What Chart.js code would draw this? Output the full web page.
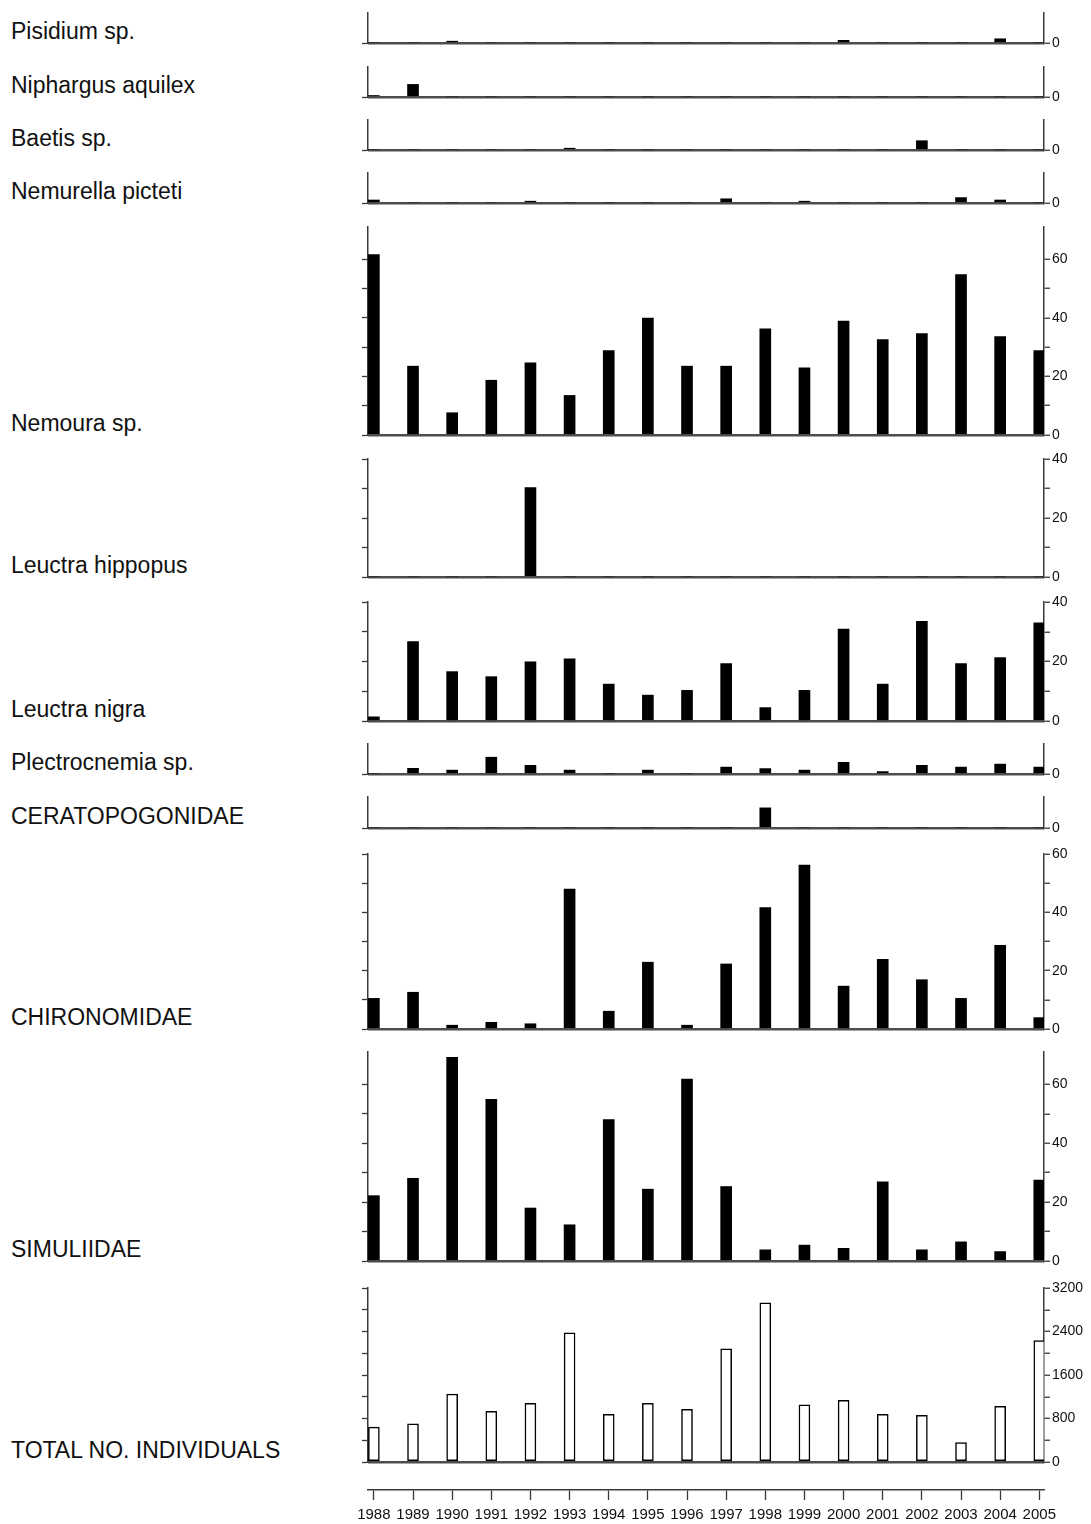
<!DOCTYPE html>
<html>
<head>
<meta charset="utf-8">
<script src="https://cdn.jsdelivr.net/npm/chart.js@4.4.1/dist/chart.umd.min.js"></script>
<style>
  body { margin: 0; background: #fff; width: 1091px; height: 1524px; position: relative; overflow: hidden; }
  canvas { position: absolute; left: 340px; }
  .label { position: absolute; left: 11px; font: 23px 'Liberation Sans', Arial, sans-serif; color: #111; line-height: 26px; white-space: nowrap; }
</style>
</head>
<body>
<script>
// Years on the shared x axis
const years = [1988, 1989, 1990, 1991, 1992, 1993, 1994, 1995, 1996, 1997, 1998, 1999, 2000, 2001, 2002, 2003, 2004, 2005];

// Values per taxon, one per year
const pisidium        = [0, 0, 0.6, 0, 0, 0, 0, 0, 0, 0, 0, 0, 0.9, 0, 0, 0, 1.4, 0];
const niphargus       = [0.5, 4.2, 0, 0, 0, 0, 0, 0, 0, 0, 0, 0, 0, 0, 0, 0, 0, 0];
const baetis          = [0, 0, 0, 0, 0, 0.6, 0, 0, 0, 0, 0, 0, 0, 0, 3.1, 0, 0, 0];
const nemurella       = [1.0, 0, 0, 0, 0.6, 0, 0, 0, 0, 1.4, 0, 0.6, 0, 0, 0, 1.8, 1.0, 0];
const nemoura         = [61.6, 23.5, 7.6, 18.7, 24.6, 13.5, 28.8, 39.9, 23.5, 23.5, 36.2, 22.9, 38.9, 32.6, 34.6, 54.8, 33.6, 28.8];
const leuctraHippopus = [0, 0, 0, 0, 30.3, 0, 0, 0, 0, 0, 0, 0, 0, 0, 0, 0, 0, 0];
const leuctraNigra    = [1.4, 26.7, 16.6, 14.9, 19.9, 20.9, 12.4, 8.7, 10.3, 19.3, 4.5, 10.3, 30.9, 12.4, 33.5, 19.3, 21.3, 33.0];
const plectrocnemia   = [0, 1.9, 1.3, 5.6, 2.9, 1.3, 0, 1.3, 0, 2.3, 1.8, 1.3, 3.9, 0.8, 2.9, 2.3, 3.3, 2.3];
const ceratopogonidae = [0, 0, 0, 0, 0, 0, 0, 0, 0, 0, 6.5, 0, 0, 0, 0, 0, 0, 0];
const chironomidae    = [10.5, 12.6, 1.3, 2.3, 1.8, 48.0, 6.1, 22.9, 1.3, 22.3, 41.6, 56.2, 14.7, 23.9, 16.9, 10.5, 28.7, 3.9];
const simuliidae      = [22.2, 28.1, 69.2, 54.9, 18.0, 12.3, 48.0, 24.4, 61.8, 25.3, 3.8, 5.4, 4.3, 26.9, 3.8, 6.5, 3.2, 27.5];
const totalIndividuals = [642, 704, 1248, 930, 1077, 2375, 875, 1077, 967, 2081, 2925, 1053, 1132, 875, 857, 355, 1022, 2234];

// Tick positions and the ones that carry a label
const zeroTicks  = [0];
const ticksTo60  = [0, 10, 20, 30, 40, 50, 60];
const ticksTo40  = [0, 10, 20, 30, 40];
const totalTicks = [0, 400, 800, 1200, 1600, 2000, 2400, 2800, 3200];
const labels60   = [0, 20, 40, 60];
const labels40   = [0, 20, 40];
const totalLabels = [0, 800, 1600, 2400, 3200];

// Panel layout (page y of plot top and zero line)
const panels = [
  { name: 'Pisidium sp.',         values: pisidium,        max: 10,   ticks: zeroTicks,  labels: zeroTicks,   top: 13,   bottom: 43 },
  { name: 'Niphargus aquilex',    values: niphargus,       max: 10,   ticks: zeroTicks,  labels: zeroTicks,   top: 67,   bottom: 97 },
  { name: 'Baetis sp.',           values: baetis,          max: 10,   ticks: zeroTicks,  labels: zeroTicks,   top: 120,  bottom: 150 },
  { name: 'Nemurella picteti',    values: nemurella,       max: 10,   ticks: zeroTicks,  labels: zeroTicks,   top: 173,  bottom: 203 },
  { name: 'Nemoura sp.',          values: nemoura,         max: 71,   ticks: ticksTo60,  labels: labels60,    top: 227,  bottom: 435 },
  { name: 'Leuctra hippopus',     values: leuctraHippopus, max: 40,   ticks: ticksTo40,  labels: labels40,    top: 459,  bottom: 577 },
  { name: 'Leuctra nigra',        values: leuctraNigra,    max: 40,   ticks: ticksTo40,  labels: labels40,    top: 602,  bottom: 721 },
  { name: 'Plectrocnemia sp.',    values: plectrocnemia,   max: 10,   ticks: zeroTicks,  labels: zeroTicks,   top: 744,  bottom: 774 },
  { name: 'CERATOPOGONIDAE',      values: ceratopogonidae, max: 10,   ticks: zeroTicks,  labels: zeroTicks,   top: 797,  bottom: 828 },
  { name: 'CHIRONOMIDAE',         values: chironomidae,    max: 60,   ticks: ticksTo60,  labels: labels60,    top: 854,  bottom: 1029 },
  { name: 'SIMULIIDAE',           values: simuliidae,      max: 71,   ticks: ticksTo60,  labels: labels60,    top: 1052, bottom: 1261 },
  { name: 'TOTAL NO. INDIVIDUALS', values: totalIndividuals, max: 3200, ticks: totalTicks, labels: totalLabels, top: 1288, bottom: 1462, open: true }
];

const X_MIN = 1987.85;
const X_MAX = 2005.12;
const AXIS = '#3a3a3a';
const BASE = '#4d4d4d';
const FAMILY = "'Liberation Sans', Arial, sans-serif";
const TICK_FONT = { family: FAMILY, size: 14 };
const YEAR_FONT = { family: FAMILY, size: 15 };
const PAD = 12;

function addCanvas(top, height) {
  const canvas = document.createElement('canvas');
  canvas.width = 751;
  canvas.height = height;
  canvas.style.top = top + 'px';
  document.body.appendChild(canvas);
  return canvas;
}

function addLabel(text, centerY) {
  const div = document.createElement('div');
  div.className = 'label';
  div.textContent = text;
  div.style.top = (centerY - 13) + 'px';
  document.body.appendChild(div);
}

// Draw one taxon panel
function makePanel(p) {
  const canvas = addCanvas(p.top - PAD, p.bottom - p.top + 2 * PAD);
  addLabel(p.name, p.bottom - 12);
  new Chart(canvas, {
    type: 'bar',
    data: {
      datasets: [{
        data: years.map((y, i) => ({ x: y, y: p.values[i] })),
        yAxisID: 'y',
        backgroundColor: p.open ? '#fff' : '#000',
        borderColor: '#000',
        borderWidth: p.open ? 1.5 : 0,
        borderSkipped: false,
        barThickness: 11
      }]
    },
    options: {
      responsive: false,
      animation: false,
      layout: { padding: { top: PAD, bottom: PAD, left: 0, right: 0 } },
      plugins: { legend: { display: false }, tooltip: { enabled: false } },
      scales: {
        x: { type: 'linear', min: X_MIN, max: X_MAX, offset: false, display: false },
        yL: {
          axis: 'y', position: 'left', min: 0, max: p.max,
          afterBuildTicks: s => { s.ticks = p.ticks.map(v => ({ value: v })); },
          afterFit: s => { s.width = 28; },
          ticks: { display: false },
          grid: { drawOnChartArea: false, tickLength: 6, tickColor: AXIS, tickWidth: 1.3 },
          border: { color: AXIS, width: 1.5 }
        },
        y: {
          position: 'right', min: 0, max: p.max,
          afterBuildTicks: s => { s.ticks = p.ticks.map(v => ({ value: v })); },
          afterFit: s => { s.width = 47; },
          ticks: {
            callback: v => p.labels.includes(v) ? String(v) : '',
            font: TICK_FONT, color: '#111', padding: 2
          },
          grid: {
            color: ctx => ctx.tick && ctx.tick.value === 0 ? BASE : 'rgba(0,0,0,0)',
            lineWidth: 2.5, tickLength: 6, tickColor: AXIS, tickWidth: 1.3
          },
          border: { color: AXIS, width: 1.5 }
        }
      }
    }
  });
}

// Shared year axis at the bottom
function makeYearAxis() {
  const canvas = addCanvas(1460, 64);
  new Chart(canvas, {
    type: 'scatter',
    data: { datasets: [] },
    options: {
      responsive: false,
      animation: false,
      layout: { padding: { top: 0, bottom: 0, left: 28, right: 47 } },
      plugins: { legend: { display: false }, tooltip: { enabled: false } },
      scales: {
        x: {
          type: 'linear', position: 'bottom', min: X_MIN, max: X_MAX, offset: false,
          afterBuildTicks: s => { s.ticks = years.map(v => ({ value: v })); },
          afterFit: s => { s.height = 34; },
          ticks: { autoSkip: false, maxRotation: 0, callback: v => String(v), font: YEAR_FONT, color: '#111', padding: 6 },
          grid: { drawOnChartArea: false, tickLength: 10, tickColor: AXIS, tickWidth: 1.3 },
          border: { color: AXIS, width: 1.5 }
        },
        y: { display: false, min: 0, max: 1 }
      }
    }
  });
}

panels.forEach(makePanel);
makeYearAxis();
</script>
</body>
</html>
